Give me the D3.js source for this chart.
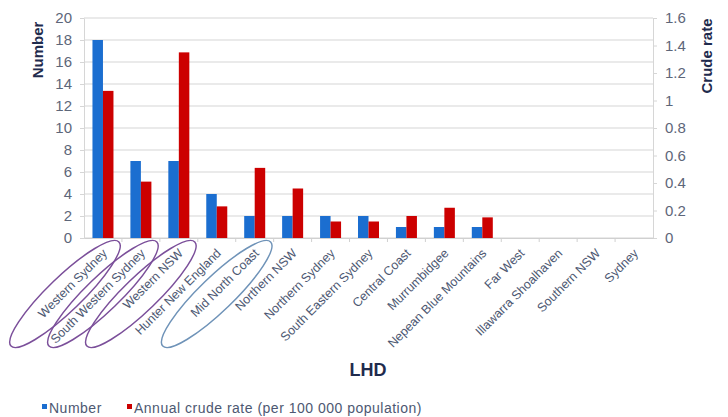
<!DOCTYPE html>
<html>
<head>
<meta charset="utf-8">
<script src="https://cdn.jsdelivr.net/npm/d3@7"></script>
<style>
body { margin: 0; background: #fff; }
svg { font-family: "Liberation Sans", Arial, sans-serif; }
</style>
</head>
<body>
<svg width="728" height="417"></svg>
<script>
const svg = d3.select("svg");

const lhds = ["Western Sydney", "South Western Sydney", "Western NSW", "Hunter New England",
  "Mid North Coast", "Northern NSW", "Northern Sydney", "South Eastern Sydney", "Central Coast",
  "Murrumbidgee", "Nepean Blue Mountains", "Far West", "Illawarra Shoalhaven", "Southern NSW", "Sydney"];
const numbers = [18, 7, 7, 4, 2, 2, 2, 2, 1, 1, 1, 0, 0, 0, 0];
const rates = [1.07, 0.41, 1.35, 0.23, 0.51, 0.36, 0.12, 0.12, 0.16, 0.22, 0.15, 0, 0, 0, 0];
const leftTicks = [0, 2, 4, 6, 8, 10, 12, 14, 16, 18, 20];
const rightTicks = [0, 0.2, 0.4, 0.6, 0.8, 1, 1.2, 1.4, 1.6];
// circled labels in the original (purple ones and one blue one)
const circled = [
  { lhd: "Western Sydney", color: "#7b4f9a" },
  { lhd: "South Western Sydney", color: "#7b4f9a" },
  { lhd: "Western NSW", color: "#7b4f9a" },
  { lhd: "Mid North Coast", color: "#6f93b8" }
];

const plotLeft = 84, plotRight = 653, plotTop = 18, plotBottom = 238;
const textCol = "#5d6679";
const titleCol = "#1f2b4d";

const x = d3.scaleBand().domain(lhds).range([plotLeft, plotRight]);
const yNum = d3.scaleLinear().domain([0, 20]).range([plotBottom, plotTop]);
const yRate = d3.scaleLinear().domain([0, 1.6]).range([plotBottom, plotTop]);

// gridlines
svg.append("g").selectAll("line")
  .data(leftTicks)
  .enter().append("line")
  .attr("x1", plotLeft).attr("x2", plotRight)
  .attr("y1", d => yNum(d)).attr("y2", d => yNum(d))
  .attr("stroke", "#d6d6d6").attr("stroke-width", 1.2);

// bars
const barW = 10.5;
const g = svg.append("g");
g.selectAll(".num")
  .data(numbers)
  .enter().append("rect")
  .attr("x", (d, i) => x(lhds[i]) + x.bandwidth() / 2 - barW)
  .attr("y", d => yNum(d))
  .attr("width", barW)
  .attr("height", d => plotBottom - yNum(d))
  .attr("fill", "#1b6ed0");
g.selectAll(".rate")
  .data(rates)
  .enter().append("rect")
  .attr("x", (d, i) => x(lhds[i]) + x.bandwidth() / 2)
  .attr("y", d => yRate(d))
  .attr("width", barW)
  .attr("height", d => plotBottom - yRate(d))
  .attr("fill", "#cc0000");

// axes
const axL = svg.append("g").attr("transform", `translate(${plotLeft},0)`)
  .call(d3.axisLeft(yNum).tickValues(leftTicks).tickSize(4).tickSizeOuter(0).tickPadding(8));
const axR = svg.append("g").attr("transform", `translate(${plotRight},0)`)
  .call(d3.axisRight(yRate).tickValues(rightTicks).tickSize(4).tickSizeOuter(0).tickPadding(8).tickFormat(d3.format("~g")));
[axL, axR].forEach(a => {
  a.select(".domain").attr("stroke", "#d6d6d6");
  a.selectAll("line").attr("stroke", "#d6d6d6");
  a.selectAll("text").attr("fill", textCol).style("font-size", "15px").style("font-family", "Liberation Sans, Arial, sans-serif");
});

// x axis
const axB = svg.append("g").attr("transform", `translate(0,${plotBottom})`)
  .call(d3.axisBottom(x).tickSize(0));
axB.select(".domain").attr("stroke", "#d0d0d0");
axB.selectAll(".tick text")
  .attr("fill", "#4d5872")
  .style("font-size", "12.5px")
  .style("font-family", "Liberation Sans, Arial, sans-serif")
  .attr("text-anchor", "end")
  .attr("dy", null).attr("y", 0)
  .attr("transform", "translate(5,16) rotate(-45)");
// band boundary ticks
axB.append("g").selectAll("line")
  .data(lhds.slice(1))
  .enter().append("line")
  .attr("x1", d => x(d)).attr("x2", d => x(d))
  .attr("y1", 0).attr("y2", 4)
  .attr("stroke", "#d0d0d0");

// ellipses round circled labels
svg.append("g").selectAll("ellipse")
  .data(circled)
  .enter().append("ellipse")
  .attr("transform", d => `translate(${x(d.lhd) + x.bandwidth() / 2 - 38},294) rotate(-44)`)
  .attr("rx", 75).attr("ry", 17)
  .attr("fill", "none")
  .attr("stroke", d => d.color)
  .attr("stroke-width", 1.5);

// axis titles
svg.append("text")
  .attr("transform", "translate(43,50) rotate(-90)")
  .attr("text-anchor", "middle")
  .attr("fill", titleCol).attr("font-weight", "bold").attr("font-size", 15)
  .text("Number");
svg.append("text")
  .attr("transform", "translate(712,56) rotate(-90)")
  .attr("text-anchor", "middle")
  .attr("fill", titleCol).attr("font-weight", "bold").attr("font-size", 15)
  .text("Crude rate");
svg.append("text")
  .attr("x", 368).attr("y", 376)
  .attr("text-anchor", "middle")
  .attr("fill", titleCol).attr("font-weight", "bold").attr("font-size", 18)
  .text("LHD");

// legend
const legend = [
  { label: "Number", color: "#1b6ed0", x: 42 },
  { label: "Annual crude rate (per 100 000 population)", color: "#cc0000", x: 127 }
];
const lg = svg.append("g").selectAll("g")
  .data(legend)
  .enter().append("g")
  .attr("transform", d => `translate(${d.x},404)`);
lg.append("rect").attr("width", 5).attr("height", 5).attr("fill", d => d.color);
lg.append("text").attr("x", 7).attr("y", 9)
  .attr("fill", "#4d5872").attr("font-size", 14).attr("letter-spacing", 0.5)
  .text(d => d.label);
</script>
</body>
</html>
